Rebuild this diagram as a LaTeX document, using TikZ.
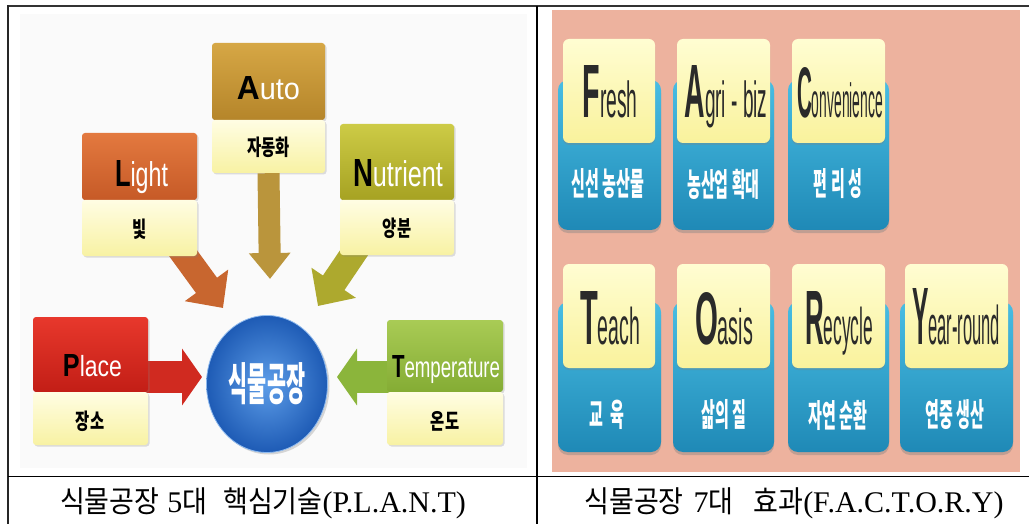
\documentclass[tikz,border=0pt]{standalone}
\usepackage{fontspec}
\usepackage{graphicx}
\setmainfont{Liberation Serif}
\newfontfamily\kr{Noto Sans CJK KR}
\newfontfamily\lsans{Liberation Sans}
\usetikzlibrary{arrows.meta,shadows,shapes.geometric}
\definecolor{pinkbg}{HTML}{EDB29E}
\definecolor{leftbg}{HTML}{FAFAFA}
\definecolor{tileYa}{HTML}{FFFDD2}
\definecolor{tileYb}{HTML}{F9F29C}
\definecolor{tileBa}{HTML}{48BDE3}
\definecolor{tileBb}{HTML}{1F89B6}
\definecolor{autoA}{HTML}{D6A745}
\definecolor{autoB}{HTML}{B5852A}
\definecolor{lightA}{HTML}{E3793F}
\definecolor{lightB}{HTML}{C65A27}
\definecolor{nutA}{HTML}{CDCB46}
\definecolor{nutB}{HTML}{A6A222}
\definecolor{placeA}{HTML}{E8382C}
\definecolor{placeB}{HTML}{C21E16}
\definecolor{tempA}{HTML}{A9CB55}
\definecolor{tempB}{HTML}{84AC34}
\definecolor{yelA}{HTML}{FFFDE3}
\definecolor{yelB}{HTML}{F8F2A3}
\definecolor{blueA}{HTML}{5D9DE8}
\definecolor{blueB}{HTML}{1E5BB5}
\definecolor{autoArr}{HTML}{BA953C}
\definecolor{lightArr}{HTML}{C8662F}
\definecolor{nutArr}{HTML}{ADA92E}
\definecolor{placeArr}{HTML}{D02A20}
\definecolor{tempArr}{HTML}{8BB53B}
\definecolor{ink}{HTML}{2A2A2A}
\newcommand\lefttxt[5]{\resizebox{#3pt}{#4pt}{\lsans\fontsize{34}{34}\selectfont\textbf{\textcolor{black}{#1}}\fontsize{31}{31}\selectfont\textcolor{white}{#2}}}
\newcommand\righttxt[4]{\resizebox{#3pt}{#4pt}{\lsans\color{ink}\fontsize{70}{70}\selectfont\textbf{#1}\fontsize{47}{47}\selectfont #2}}
\newcommand\krleft[1]{\scalebox{0.7}[1]{\kr\bfseries\fontsize{22}{22}\selectfont #1}}
\newcommand\krright[1]{\scalebox{0.47}[1]{\kr\bfseries\fontsize{32}{32}\selectfont\textcolor{white}{#1}}}
\newcommand\krcap[1]{\scalebox{0.9}[1]{\kr\fontsize{30}{30}\selectfont #1}}
\tikzset{
  topbox/.style={rectangle, rounded corners=3pt, inner sep=0pt,
    drop shadow={opacity=0.25,shadow xshift=1.5pt,shadow yshift=-1.5pt}},
  botbox/.style={rectangle, rounded corners=3pt, inner sep=0pt, top color=yelA, bottom color=yelB,
    drop shadow={opacity=0.25,shadow xshift=1.5pt,shadow yshift=-1.5pt}},
  blockarr/.style n args={3}{line width=#1, -{Triangle[width=#2,length=#3]}},
  ytile/.style={rectangle, rounded corners=6pt, inner sep=0pt, minimum height=104pt,
    top color=tileYa, bottom color=tileYb,
    drop shadow={opacity=0.3,shadow xshift=0pt,shadow yshift=-2pt}},
  btile/.style={rectangle, rounded corners=10pt, inner sep=0pt, minimum height=150pt,
    top color=tileBa, bottom color=tileBb,
    drop shadow={opacity=0.4,shadow xshift=0pt,shadow yshift=-3pt}},
  txt/.style={inner sep=0pt},
  captext/.style={inner sep=0pt, font=\fontsize{30}{30}\selectfont}
}
\begin{document}
\begin{tikzpicture}[x=1pt,y=-1pt]
\useasboundingbox (0,0) rectangle (1029,524);
\fill[white] (0,0) rectangle (1029,524);
% panel backgrounds
\fill[leftbg] (20,14) rectangle (527,468);
\fill[pinkbg] (552,10) rectangle (1020,472);

% ---------- left: PLANT ----------
\coordinate (autoTip) at (270,279);
\coordinate (lightS) at (172,238);
\coordinate (lightTip) at (223,308);
\coordinate (nutS) at (364,238);
\coordinate (nutTip) at (318,306);
\coordinate (placeS) at (140,377);
\coordinate (placeTip) at (202,377);
\coordinate (tempS) at (395,377);
\coordinate (tempTip) at (337,377);

\node[topbox, minimum width=113pt, minimum height=77pt, top color=autoA, bottom color=autoB] (autoT) at (268.5,81.5) {};
\node[botbox, minimum width=113pt, minimum height=53pt] (autoBx) at (268.5,146.5) {};

\draw[blockarr={22pt}{40pt}{26pt}, autoArr] (autoBx.south) -- (autoTip);
\draw[blockarr={26pt}{52pt}{28pt}, lightArr] (lightS) -- (lightTip);
\draw[blockarr={26pt}{52pt}{28pt}, nutArr] (nutS) -- (nutTip);
\draw[blockarr={32pt}{56pt}{20pt}, placeArr] (placeS) -- (placeTip);
\draw[blockarr={32pt}{56pt}{20pt}, tempArr] (tempS) -- (tempTip);

\node[topbox, minimum width=115pt, minimum height=67pt, top color=lightA, bottom color=lightB] (lightT) at (139.5,166.5) {};
\node[botbox, minimum width=115pt, minimum height=56pt] (lightBx) at (139.5,228) {};
\node[topbox, minimum width=114pt, minimum height=76pt, top color=nutA, bottom color=nutB] (nutT) at (397,162) {};
\node[botbox, minimum width=114pt, minimum height=55pt] (nutBx) at (397,227.5) {};
\node[topbox, minimum width=115pt, minimum height=75pt, top color=placeA, bottom color=placeB] (placeT) at (90.5,354.5) {};
\node[botbox, minimum width=115pt, minimum height=53pt] (placeBx) at (90.5,418.5) {};
\node[topbox, minimum width=116pt, minimum height=72pt, top color=tempA, bottom color=tempB] (tempT) at (445,356) {};
\node[botbox, minimum width=116pt, minimum height=53pt] (tempBx) at (445,418.5) {};

\node[txt, anchor=base] (autoL) at (268.5,100) {\lefttxt{A}{uto}{63}{23}{}};
\node[txt, anchor=base] (lightL) at (141.5,186) {\lefttxt{L}{ight}{53}{26}{}};
\node[txt, anchor=base] (nutL) at (398,186) {\lefttxt{N}{utrient}{90}{27}{}};
\node[txt, anchor=base] (placeL) at (92.5,376) {\lefttxt{P}{lace}{59}{22}{}};
\node[txt, anchor=base] (tempL) at (446,377) {\lefttxt{T}{emperature}{108}{22}{}};

\node[txt] (autoK) at (268.5,147) {\krleft{자동화}};
\node[txt] (lightK) at (140,229) {\krleft{빛}};
\node[txt] (nutK) at (397,228) {\krleft{양분}};
\node[txt] (placeK) at (90,421) {\krleft{장소}};
\node[txt] (tempK) at (445,421) {\krleft{온도}};

\node[ellipse, minimum width=121pt, minimum height=137pt, inner sep=0pt,
  inner color=blueA, outer color=blueB, draw=blueA!70!white, line width=0.8pt,
  drop shadow={opacity=0.3,shadow xshift=2pt,shadow yshift=-2pt}] (pf) at (267,384)
  {\scalebox{0.46}[1]{\kr\bfseries\fontsize{45}{45}\selectfont\textcolor{white}{식물공장}}};

% ---------- right: FACTORY ----------
\node[btile, minimum width=103pt] (freshB) at (609.5,155) {};
\node[btile, minimum width=101pt] (agriB) at (723.5,155) {};
\node[btile, minimum width=101pt] (convB) at (838.5,155) {};
\node[btile, minimum width=103pt] (teachB) at (609.5,377) {};
\node[btile, minimum width=101pt] (oasisB) at (723.5,377) {};
\node[btile, minimum width=101pt] (recyB) at (838.5,377) {};
\node[btile, minimum width=113pt] (yearB) at (956.5,377) {};

\node[ytile, minimum width=92pt] (freshY) at (609,91) {};
\node[ytile, minimum width=93pt] (agriY) at (723.5,91) {};
\node[ytile, minimum width=93pt] (convY) at (838.5,91) {};
\node[ytile, minimum width=92pt] (teachY) at (609,316) {};
\node[ytile, minimum width=93pt] (oasisY) at (723.5,316) {};
\node[ytile, minimum width=93pt] (recyY) at (838.5,316) {};
\node[ytile, minimum width=103pt] (yearY) at (956.5,316) {};

\node[txt, anchor=base] (freshL) at (610,118) {\righttxt{F}{resh}{55}{52}};
\node[txt, anchor=base] (agriL) at (726,118) {\righttxt{A}{gri - biz}{83}{52}};
\node[txt, anchor=base] (convL) at (840,118) {\righttxt{C}{onvenience}{86}{50}};
\node[txt, anchor=base] (teachL) at (610,344) {\righttxt{T}{each}{60}{53}};
\node[txt, anchor=base] (oasisL) at (724,344) {\righttxt{O}{asis}{58}{52}};
\node[txt, anchor=base] (recyL) at (839,344) {\righttxt{R}{ecycle}{68}{53}};
\node[txt, anchor=base] (yearL) at (956,344) {\righttxt{Y}{ear-round}{88}{56}};

\node[txt] (freshK) at (608,184) {\krright{신선 농산물}};
\node[txt] (agriK) at (723.5,184) {\krright{농산업 확대}};
\node[txt] (convK) at (838,184) {\krright{편 리 성}};
\node[txt] (teachK) at (607,415) {\krright{교\ \ 육}};
\node[txt] (oasisK) at (724,415) {\krright{삶의 질}};
\node[txt] (recyK) at (838,415) {\krright{자연 순환}};
\node[txt] (yearK) at (955,415) {\krright{연중 생산}};

% ---------- table rules ----------
\draw[line width=2pt, black!80] (7,6.5) -- (1029,6.5);
\draw[line width=1.8pt, black!85] (8,5.5) -- (8,524);
\draw[line width=1.2pt, black] (537,6) -- (537,524);
\draw[line width=1.2pt, black] (8,476.5) -- (1029,476.5);

% ---------- captions ----------
\node[captext] (capL) at (263,503) {\krcap{식물공장}\hspace{8pt}5\krcap{대}\hspace{16pt}\krcap{핵심기술}(P.L.A.N.T)};
\node[captext] (capR) at (794,503) {\krcap{식물공장}\hspace{10pt}7\krcap{대}\hspace{20pt}\krcap{효과}(F.A.C.T.O.R.Y)};
\end{tikzpicture}
\end{document}
